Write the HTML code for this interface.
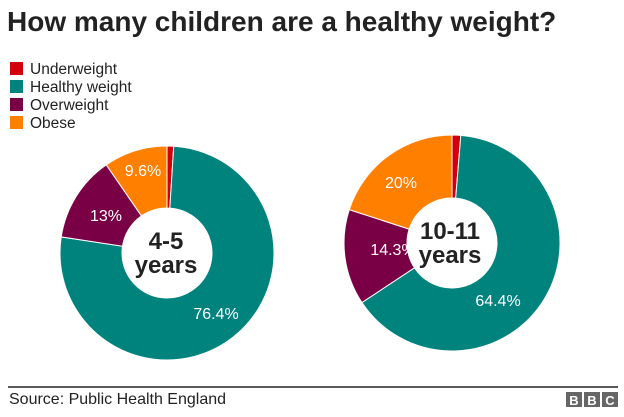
<!DOCTYPE html>
<html><head><meta charset="utf-8"><style>
body{margin:0;background:#fff;width:624px;height:412px;overflow:hidden;font-family:"Liberation Sans",sans-serif}
</style></head><body>
<svg id="s" width="624" height="412" xmlns="http://www.w3.org/2000/svg" font-family="Liberation Sans, sans-serif">
<text x="7" y="31" font-size="28" font-weight="bold" fill="#222">How many children are a healthy weight?</text>
<rect x="10" y="62" width="13" height="13" fill="#d1000b"/><text x="30" y="74" font-size="15.5" fill="#222">Underweight</text>
<rect x="10" y="80" width="13" height="13" fill="#00827d"/><text x="30" y="92" font-size="15.5" fill="#222">Healthy weight</text>
<rect x="10" y="98" width="13" height="13" fill="#7a0046"/><text x="30" y="110" font-size="15.5" fill="#222">Overweight</text>
<rect x="10" y="116" width="13" height="13" fill="#ff7f00"/><text x="30" y="128" font-size="15.5" fill="#222">Obese</text>
<g id="d1"></g><g id="d2"></g>
<g font-size="16" fill="#fff" text-anchor="middle">
<text x="143" y="176">9.6%</text><text x="106" y="221">13%</text><text x="216" y="319">76.4%</text>
<text x="401" y="188">20%</text><text x="393" y="255">14.3%</text><text x="498" y="306">64.4%</text>
</g>
<g font-size="24" font-weight="bold" fill="#222" text-anchor="middle">
<text x="166" y="249">4-5</text><text x="166" y="273">years</text>
<text x="450" y="239">10-11</text><text x="450" y="263">years</text>
</g>
<line x1="8" y1="387" x2="618" y2="387" stroke="#222" stroke-width="1.5"/>
<text x="9" y="404" font-size="16" fill="#222">Source: Public Health England</text>
<g fill="#666"><rect x="566" y="392" width="16" height="15"/><rect x="584" y="392" width="16" height="15"/><rect x="602" y="392" width="16" height="15"/></g>
<g fill="#fff" font-size="13" font-weight="bold" text-anchor="middle"><text x="574" y="405">B</text><text x="592" y="405">B</text><text x="610" y="405">C</text></g>
</svg>
<script>
function donut(id,cx,cy,R,r,vals,cols){var g=document.getElementById(id),a=0,h='';
for(var i=0;i<vals.length;i++){var a0=a,a1=a+vals[i]/100*2*Math.PI;a=a1;
var p=function(rad,t){return (cx+rad*Math.sin(t)).toFixed(2)+' '+(cy-rad*Math.cos(t)).toFixed(2)};
var L=(a1-a0)>Math.PI?1:0;
h+='<path d="M'+p(R,a0)+' A'+R+' '+R+' 0 '+L+' 1 '+p(R,a1)+' L'+p(r,a1)+' A'+r+' '+r+' 0 '+L+' 0 '+p(r,a0)+'Z" fill="'+cols[i]+'" stroke="#fff" stroke-width="1"/>';}
g.innerHTML=h;}
var C=['#d1000b','#00827d','#7a0046','#ff7f00'];
donut('d1',167,253,107,45,[1,76.4,13,9.6],C);
donut('d2',452,243,108,45,[1.3,64.4,14.3,20],C);
</script>
</body></html>
